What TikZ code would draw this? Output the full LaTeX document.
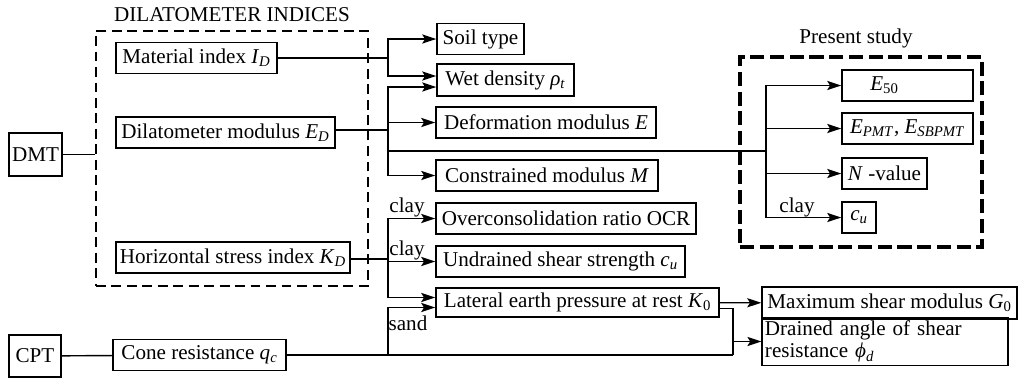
\documentclass[tikz,border=0pt]{standalone}
\usepackage{fontspec}
\setmainfont{Liberation Serif}
\usetikzlibrary{arrows.meta}

\newcommand{\varsub}[2]{\textit{#1}\textsubscript{\textit{#2}}}

\begin{document}
\begin{tikzpicture}[x=0.025cm, y=-0.025cm, line width=1pt,
  every node/.style={font=\fontsize{15}{16}\selectfont},
  box/.style={draw, inner sep=2pt, minimum height=0.775cm},
  groupbox/.style={draw, dash pattern=on 7pt off 4pt, line width=1.5pt, inner sep=0pt},
  studybox/.style={draw, dash pattern=on 10pt off 4pt, line width=2.8pt, inner sep=0pt},
  lbl/.style={inner sep=0pt},
  arr/.style={-{Stealth[length=10pt, width=6.5pt, inset=2pt]}}]
  \useasboundingbox (0,0) rectangle (1020,378);

  % groups
  \node[groupbox, minimum width=6.8cm, minimum height=6.375cm] (dind) at (232,158.5) {};
  \node (ttl) at (232,15) {DILATOMETER INDICES};
  \node[studybox, minimum width=6.05cm, minimum height=4.75cm] (pres) at (861,152) {};
  \node (pst) at (856,38) {Present study};

  % tests and indices
  \node[box, minimum width=1.325cm, minimum height=1.075cm] (dmt) at (35.5,154.5) {DMT};
  \node[box, minimum width=1.3cm, minimum height=1.05cm] (cpt) at (35,356) {CPT};
  \node[box, minimum width=4.025cm] (mat) at (196.5,58) {Material index \varsub{I}{D}};
  \node[box, minimum width=5.475cm] (dil) at (225.5,132.5) {Dilatometer modulus \varsub{E}{D}};
  \node[box, minimum width=5.85cm] (hor) at (233,257.5) {Horizontal stress index \varsub{K}{D}};
  \node[box, minimum width=4.325cm] (cone) at (199.5,355) {Cone resistance \varsub{q}{c}};

  % soil parameters
  \node[box, minimum width=2.175cm] (soil) at (480.5,39) {Soil type};
  \node[box, minimum width=3.425cm, minimum height=0.8cm] (wet) at (505.5,80) {Wet density \varsub{ρ}{t}};
  \node[box, minimum width=5.5cm] (defo) at (546,122.5) {Deformation modulus \textit{E}};
  \node[box, minimum width=5.55cm] (cons) at (547,175.5) {Constrained modulus \textit{M}};
  \node[box, minimum width=6.5cm] (ocr) at (566,218.5) {Overconsolidation ratio OCR};
  \node[box, minimum width=6.225cm] (undr) at (560.5,261.5) {Undrained shear strength \varsub{c}{u}};
  \node[box, minimum width=7.075cm, minimum height=0.725cm] (lat) at (577.5,302.5) {Lateral earth pressure at rest \textit{K}\textsubscript{0}};
  \node[box, minimum width=6.375cm, minimum height=0.8cm] (gmax) at (889.5,303) {Maximum shear modulus \textit{G}\textsubscript{0}};
  \node[box, text width=6.0cm, minimum height=1.075cm, align=left] (phid) at (885,341.5) {Drained angle of shear\\resistance \varsub{ϕ}{d}};
  \node[box, minimum width=3.275cm] (e50) at (907.5,85.5) {\textit{E}\textsubscript{50}\rule{1.15cm}{0pt}};
  \node[box, minimum width=3.275cm] (epmt) at (907.5,128.5) {\varsub{E}{PMT}, \varsub{E}{SBPMT}};
  \node[box, minimum width=2.125cm] (nval) at (884.5,173.5) {\textit{N} -value};
  \node[box, minimum width=0.85cm] (cu) at (859,217.5) {\varsub{c}{u}};

  % junctions
  \coordinate (fa) at (388,58);
  \coordinate (fb) at (388,130);
  \coordinate (fc) at (388,151);
  \coordinate (fd) at (766,151);
  \coordinate (fe) at (388,259);
  \coordinate (ff) at (388,355);
  \coordinate (fg) at (733,355);

  \draw (dmt) -- (dmt -| dind.west);
  \draw (cpt) -- (cone);

  \draw (mat) -- (fa);
  \draw[arr] (fa) |- (soil);
  \draw[arr] (fa) |- ([yshift=0.1cm]wet.west);

  \draw (dil.east |- fb) -- (fb);
  \draw[arr] (fb) |- ([yshift=-0.175cm]wet.west);
  \draw[arr] (fb) |- (defo);
  \draw[arr] (fb) |- (cons);
  \draw (fc) -- (fd);
  \draw[arr] (fd) |- (e50);
  \draw[arr] (fd) |- (epmt);
  \draw[arr] (fd) |- (nval);
  \draw[arr] (fd) |- (cu);

  \draw (hor.east |- fe) -- (fe);
  \draw[arr] (fe) |- (ocr);
  \draw[arr] (fe) |- (undr);
  \draw[arr] (fe) |- ([yshift=0.125cm]lat.west);

  \draw (cone) -- (fg);
  \draw[arr] (ff) |- ([yshift=-0.125cm]lat.west);
  \draw[arr] (lat) -- (gmax);
  \draw ([yshift=-0.15cm]lat.east) -| (fg);
  \draw[arr] (fg |- phid) -- (phid);

  % branch labels
  \node[lbl] (c1) at (407,207) {clay};
  \node[lbl] (c2) at (407,250) {clay};
  \node[lbl] (s1) at (408,323) {sand};
  \node[lbl] (c3) at (797,207) {clay};
\end{tikzpicture}
\end{document}
